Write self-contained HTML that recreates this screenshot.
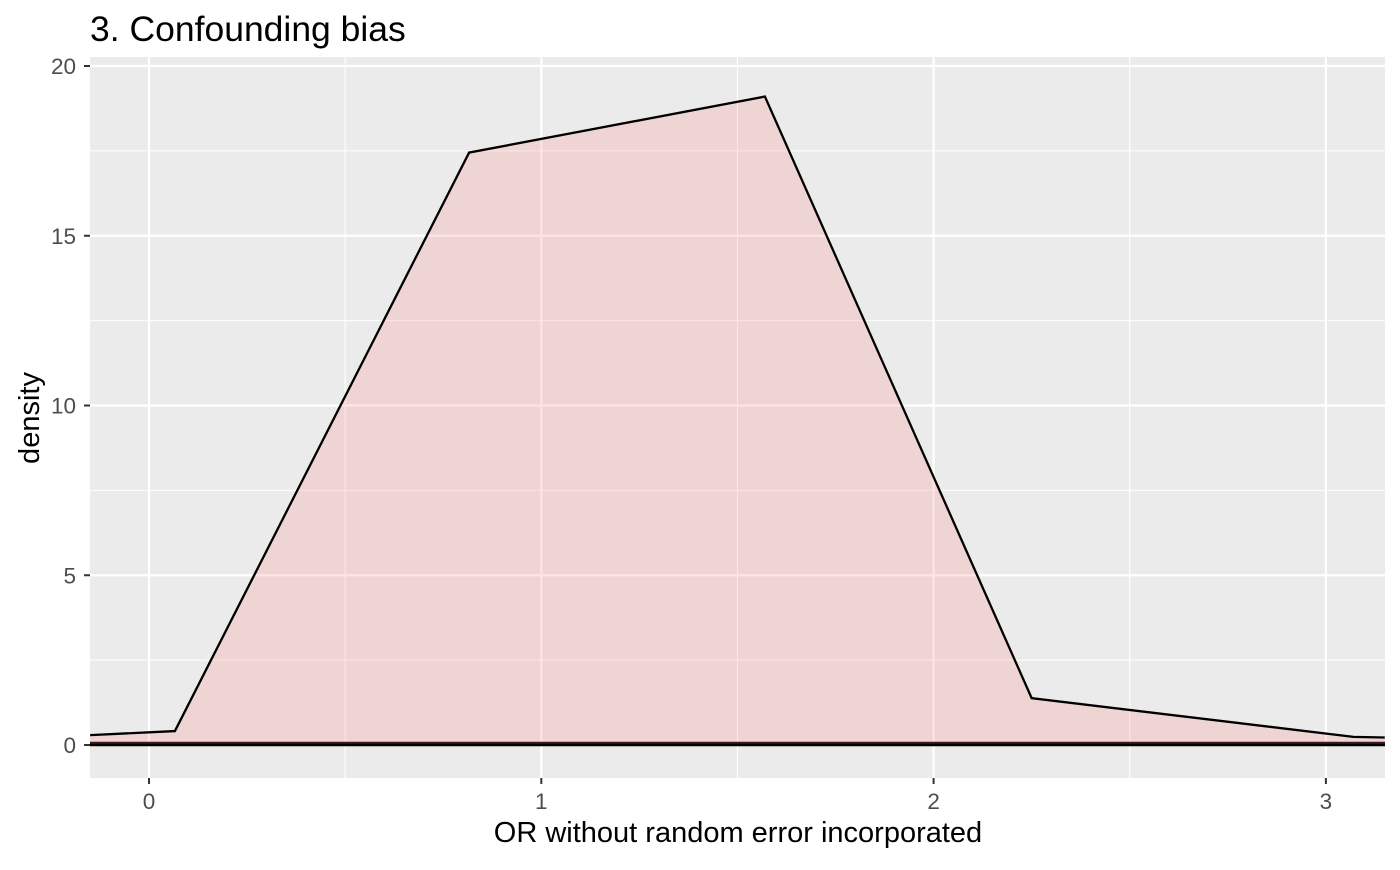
<!DOCTYPE html>
<html><head><meta charset="utf-8"><style>
body{margin:0;background:#fff;font-family:"Liberation Sans",sans-serif}
text{font-family:"Liberation Sans",sans-serif}
</style></head><body>
<svg id="chart" width="1400" height="865">
<text x="90" y="41" font-size="35.5" fill="#000">3. Confounding bias</text>
<rect x="90" y="57" width="1295" height="721" fill="#ebebeb"/>
<g id="grid"></g>
<g id="marks"></g>
<g id="axes"></g>
<text x="738" y="842" font-size="29" text-anchor="middle">OR without random error incorporated</text>
<text transform="translate(39,418) rotate(-90)" font-size="29" text-anchor="middle">density</text>
</svg>
<script>
const xs=[-0.15,0.066,0.816,1.57,2.25,3.07,3.15];
const ys=[0.29,0.41,17.45,19.1,1.38,0.24,0.22];
const xTicks=[0,1,2,3];
const yTicks=[0,5,10,15,20];
const X=v=>149+v*392.3, Y=v=>745-v*33.95;
const ns="http://www.w3.org/2000/svg";
function mk(t,a,p){const e=document.createElementNS(ns,t);for(const k in a)e.setAttribute(k,a[k]);p.appendChild(e);return e;}
const grid=document.getElementById('grid'),marks=document.getElementById('marks'),axes=document.getElementById('axes');
[-0.5,0.5,1.5,2.5,3.5].forEach(v=>{if(X(v)>90&&X(v)<1385){const l=mk('line',{x1:X(v),x2:X(v),y1:57,y2:778,stroke:'#fff','stroke-width':1.1},grid);}});
[2.5,7.5,12.5,17.5].forEach(v=>{const l=mk('line',{x1:90,x2:1385,y1:Y(v),y2:Y(v),stroke:'#fff','stroke-width':1.1},grid);});
xTicks.forEach(v=>{const l=mk('line',{x1:X(v),x2:X(v),y1:57,y2:778,stroke:'#fff','stroke-width':2.2},grid);
const t=mk('line',{x1:X(v),x2:X(v),y1:778,y2:784,stroke:'#333','stroke-width':2},axes);
const tx=mk('text',{x:X(v),y:809,'font-size':22.5,fill:'#4d4d4d','text-anchor':'middle'},axes);tx.textContent=v;});
yTicks.forEach(v=>{const l=mk('line',{x1:90,x2:1385,y1:Y(v),y2:Y(v),stroke:'#fff','stroke-width':2.2},grid);
const t=mk('line',{x1:84,x2:90,y1:Y(v),y2:Y(v),stroke:'#333','stroke-width':2},axes);
const tx=mk('text',{x:76,y:Y(v)+8,'font-size':22.5,fill:'#4d4d4d','text-anchor':'end'},axes);tx.textContent=v;});
let d='M'+X(xs[0])+','+Y(0);xs.forEach((x,i)=>d+=' L'+X(x)+','+Y(ys[i]));d+=' L'+X(xs[xs.length-1])+','+Y(0)+'Z';
const area=mk('path',{d:d,fill:'rgba(248,118,109,0.2)'},marks);


const line=mk('polyline',{points:xs.map((x,i)=>X(x)+','+Y(ys[i])).join(' '),fill:'none',stroke:'#000','stroke-width':2.3},marks);


const b1=mk('line',{x1:90,x2:1385,y1:Y(0.06),y2:Y(0.06),stroke:'#3a1a1a','stroke-width':2.5},marks);


const b2=mk('line',{x1:90,x2:1385,y1:Y(0),y2:Y(0),stroke:'#000','stroke-width':2.5},marks);


</script>
</body></html>
